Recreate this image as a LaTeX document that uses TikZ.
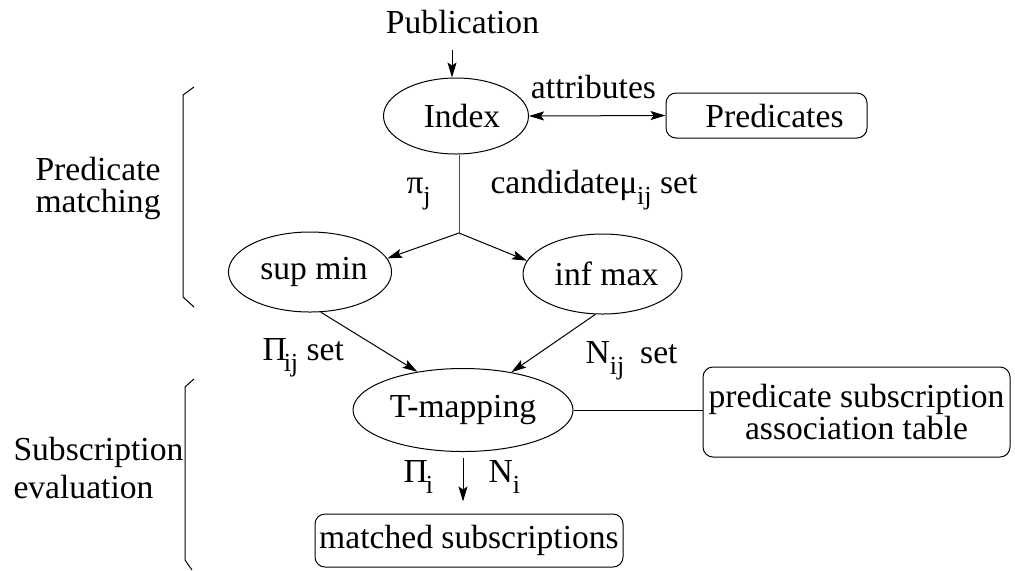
\documentclass[tikz,border=0pt]{standalone}
\usepackage{fontspec}
\setmainfont{Liberation Serif}
\usetikzlibrary{shapes.geometric,arrows.meta}
\newcommand{\sbs}[1]{\raisebox{-5.5pt}{\fontsize{13}{13}\selectfont #1}}
\begin{document}
\begin{tikzpicture}[x=0.5pt,y=-0.5pt,
  font=\fontsize{16.8}{16.8}\selectfont,
  line width=0.5pt,
  ell/.style={draw, ellipse, inner sep=0pt},
  rbox/.style={draw, rounded corners=5pt, inner sep=0pt},
  lbl/.style={inner sep=0pt, anchor=base west},
  clbl/.style={inner sep=0pt, anchor=base},
  arr/.style={-{Stealth[length=7.5pt,width=4.5pt,inset=1.5pt]}},
  dblarr/.style={{Stealth[length=7.5pt,width=4.5pt,inset=1.5pt]}-{Stealth[length=7.5pt,width=4.5pt,inset=1.5pt]}},
]
\useasboundingbox (0,0) rectangle (1015,570);

% shapes
\node[ell, minimum width=72.5pt, minimum height=38pt] (index) at (456,116) {\hspace*{6pt}Index};
\node[rbox, minimum width=100.5pt, minimum height=22.5pt] (pred) at (766.5,115.5) {\hspace*{8pt}Predicates};
\node[ell, minimum width=79pt, minimum height=40pt] (supmin) at (310,272) {\hspace*{4pt}sup min};
\node[ell, minimum width=79.5pt, minimum height=40pt] (infmax) at (602.5,274) {\hspace*{4pt}inf max};
\node[ell, minimum width=110pt, minimum height=41.5pt] (tmap) at (463,410) {T-mapping};
\node[rbox, minimum width=153.5pt, minimum height=45pt, align=center,
      font=\fontsize{16.8}{14}\selectfont] (table) at (856.5,412)
      {predicate subscription\\association table};
\node[rbox, minimum width=154pt, minimum height=26.5pt] (ms) at (469,540.5) {matched subscriptions};

% texts
\node[clbl] (pub) at (462.5,33) {Publication};
\node[clbl] (attr) at (593.5,98) {attributes};
\node[lbl] (pij) at (406,193) {π\sbs{j}};
\node[lbl] (cand) at (490,193) {candidateμ\sbs{ij} set};
\node[lbl] (Pij) at (262,360) {Π\kern-1.5pt\sbs{ij} set};
\node[lbl] (Nij) at (585,363) {N\sbs{ij}\hspace{8pt}set};
\node[lbl] (Pi) at (403,482) {Π\kern-1pt\sbs{i}};
\node[lbl] (Ni) at (488,482) {N\sbs{i}};
\node[lbl] (pm1) at (35,180) {Predicate};
\node[lbl] (pm2) at (35,212) {matching};
\node[lbl] (se1) at (13,460) {Subscription};
\node[lbl] (se2) at (13,498) {evaluation};

% coordinates
\coordinate (pubarr) at (452,50);
\coordinate (branch) at (459,233);

% connectors
\draw[arr] (pubarr) -- (pubarr |- index.north);
\draw[dblarr] (index.east) -- (pred.west);
\draw[black!70] (branch |- index.south) -- (branch);
\draw[arr] (branch) -- (supmin.10);
\draw[arr] (branch) -- (infmax.170);
\draw[arr] (supmin.-75) -- (tmap.140);
\draw[arr] (infmax.-100) -- (tmap.38);
\draw (tmap.east) -- (tmap.east -| table.west);
\draw[arr, shorten <=3pt, shorten >=6pt] (tmap.south) -- (tmap.south |- ms.north);

% braces
\draw (194,87) -- (183,95) -- (183,297) -- (194,307);
\draw (194,379) -- (185,387) -- (185,560) -- (192,570);
\end{tikzpicture}
\end{document}
